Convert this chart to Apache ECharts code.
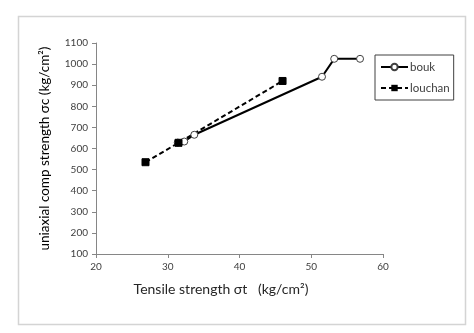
<!DOCTYPE html>
<html><head><meta charset="utf-8">
<script src="https://cdn.jsdelivr.net/npm/echarts@6/dist/echarts.min.js"></script>
<style>html,body{margin:0;padding:0;background:#fff}#c{width:474px;height:333px}</style>
</head><body><div id="c"></div>
<script>
const boukX = [31.4, 32.3, 33.7, 51.5, 53.2, 56.8];
const boukY = [628, 633, 665, 940, 1025, 1025];
const louchanX = [26.9, 31.5, 46.0];
const louchanY = [535, 627, 920];
const xTicks = [20, 30, 40, 50, 60];
const yTicks = [100, 200, 300, 400, 500, 600, 700, 800, 900, 1000, 1100];
const seriesNames = ['bouk', 'louchan'];

const toPairs = (xs, ys) => xs.map((x, i) => [x, ys[i]]);
const font = 'Lato, "Open Sans", sans-serif';
const chart = echarts.init(document.getElementById('c'), null, {renderer: 'canvas'});
chart.setOption({
  animation: false,
  backgroundColor: '#fff',
  textStyle: {fontFamily: font},
  graphic: [{
    type: 'rect', left: 16, top: 14,
    shape: {width: 447, height: 308},
    style: {fill: 'none', stroke: '#d4d4d4', lineWidth: 1.5},
    silent: true, z: -1
  }],
  grid: {left: 96, right: 91, top: 43, bottom: 79, containLabel: false},
  xAxis: {
    type: 'value', min: xTicks[0], max: xTicks[xTicks.length - 1], interval: 10,
    name: 'Tensile strength σt   (kg/cm²)', nameLocation: 'middle', nameGap: 28,
    nameTextStyle: {fontSize: 14, color: '#262626', fontFamily: font, padding: [0, 37, 0, 0]},
    axisLine: {lineStyle: {color: '#868686', width: 1}},
    axisTick: {show: true, length: 4, lineStyle: {color: '#868686'}},
    axisLabel: {fontSize: 10, color: '#404040', margin: 8, fontFamily: font},
    splitLine: {show: false}
  },
  yAxis: {
    type: 'value', min: yTicks[0], max: yTicks[yTicks.length - 1], interval: 100,
    name: 'uniaxial comp strength σc (kg/cm²)', nameLocation: 'middle', nameGap: 44,
    nameTextStyle: {fontSize: 13.5, color: '#000', fontFamily: font},
    axisLine: {show: true, lineStyle: {color: '#868686', width: 1}},
    axisTick: {show: true, length: 4, lineStyle: {color: '#868686'}},
    axisLabel: {fontSize: 10, color: '#404040', margin: 8, fontFamily: font,
      formatter: v => String(v)},
    splitLine: {show: false}
  },
  legend: {
    orient: 'vertical', left: 375, top: 55,
    data: seriesNames,
    borderColor: '#404040', borderWidth: 1, borderRadius: 0,
    padding: [6, 4, 6, 5], itemGap: 9, itemWidth: 27, itemHeight: 8,
    textStyle: {fontSize: 11.5, color: '#404040', fontFamily: font, padding: [0, 0, 0, -3]}
  },
  series: [
    {
      name: seriesNames[0], type: 'line', data: toPairs(boukX, boukY),
      symbol: 'circle', symbolSize: 7, showAllSymbol: true,
      lineStyle: {color: '#000', width: 2},
      itemStyle: {color: '#fff', borderColor: '#404040', borderWidth: 1}
    },
    {
      name: seriesNames[1], type: 'line', data: toPairs(louchanX, louchanY),
      symbol: 'rect', symbolSize: 7, showAllSymbol: true,
      lineStyle: {color: '#000', width: 2, type: [5, 3]},
      itemStyle: {color: '#000', borderColor: '#000'}
    }
  ]
});
</script></body></html>
